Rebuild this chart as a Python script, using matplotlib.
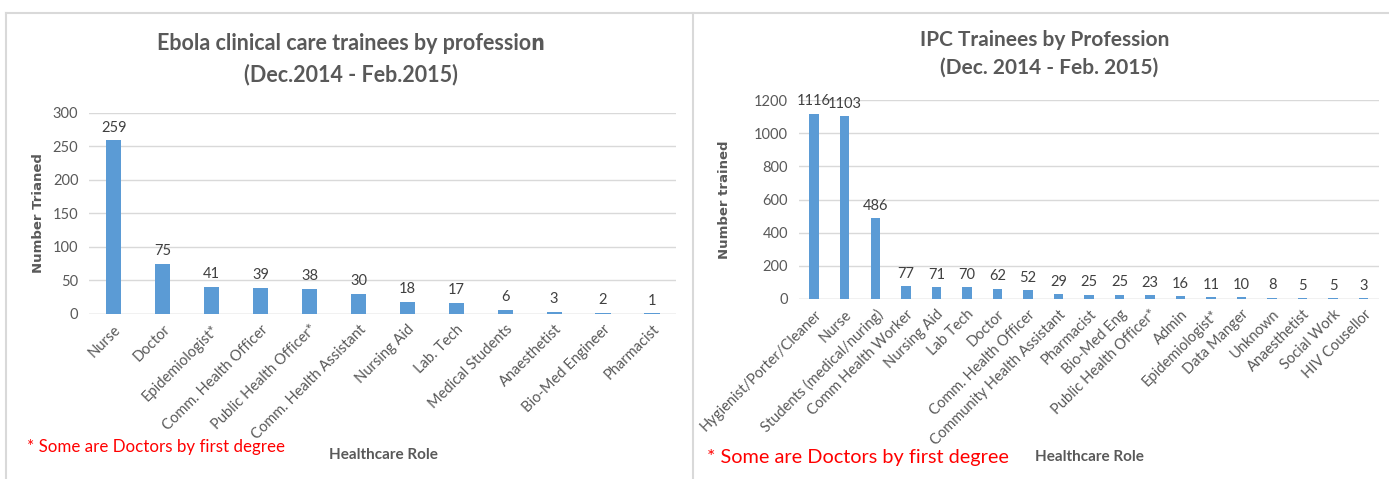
import matplotlib
matplotlib.use('Agg')
import matplotlib.pyplot as plt
from matplotlib.lines import Line2D

# clinical care trainees
clin_roles = ['Nurse', 'Doctor', 'Epidemiologist*', 'Comm. Health Officer',
              'Public Health Officer*', 'Comm. Health Assistant', 'Nursing Aid',
              'Lab. Tech', 'Medical Students', 'Anaesthetist', 'Bio-Med Engineer',
              'Pharmacist']
clin_counts = [259, 75, 41, 39, 38, 30, 18, 17, 6, 3, 2, 1]

# IPC trainees
ipc_roles = ['Hygienist/Porter/Cleaner', 'Nurse', 'Students (medical/nuring)',
             'Comm Health Worker', 'Nursing Aid', 'Lab Tech', 'Doctor',
             'Comm. Health Officer', 'Community Health Assistant', 'Pharmacist',
             'Bio-Med Eng', 'Public Health Officer*', 'Admin', 'Epidemiologist*',
             'Data Manger', 'Unknown', 'Anaesthetist', 'Social Work', 'HIV Cousellor']
ipc_counts = [1116, 1103, 486, 77, 71, 70, 62, 52, 29, 25, 25, 23, 16, 11, 10, 8, 5, 5, 3]

BAR = '#5B9BD5'
GRID = '#D9D9D9'
TXT = '#595959'
FONT = 'Lato'

plt.rcParams['font.family'] = [FONT, 'DejaVu Sans']


def draw_bars(ax, roles, counts, ymax, step, tick_size, label_size):
    x = range(len(roles))
    ax.bar(x, counts, width=0.31, color=BAR, zorder=3)
    for i, v in zip(x, counts):
        ax.annotate(str(v), (i, v), xytext=(0, 4), textcoords='offset points',
                    ha='center', va='bottom', fontsize=label_size, color='#404040')
    ax.set_xlim(-0.5, len(roles) - 0.5)
    ax.set_ylim(0, ymax)
    ax.set_yticks(range(0, ymax + 1, step))
    ax.yaxis.grid(True, color=GRID, linewidth=1, zorder=0)
    for s in ax.spines.values():
        s.set_visible(False)
    ax.axhline(0, color=GRID, linewidth=1, zorder=2)
    ax.tick_params(length=0, colors=TXT, labelsize=tick_size)
    ax.set_xticks(list(x))
    ax.set_xticklabels(roles, rotation=45, ha='right', rotation_mode='anchor')
    ax.tick_params(axis='x', pad=6)
    ax.tick_params(axis='y', pad=8)


fig = plt.figure(figsize=(13.89, 4.79), dpi=100)

ax1 = fig.add_axes([0.0644, 0.3445, 0.4226, 0.4196])
draw_bars(ax1, clin_roles, clin_counts, 300, 50, 10.5, 10.5)

ax2 = fig.add_axes([0.5752, 0.3758, 0.4176, 0.4154])
draw_bars(ax2, ipc_roles, ipc_counts, 1200, 200, 10.5, 10.5)

# panel frames
fig.add_artist(Line2D([6 / 1389, 1], [1 - 13 / 479] * 2, color='#D9D9D9', lw=1.5))
fig.add_artist(Line2D([6 / 1389] * 2, [0, 1 - 13 / 479], color='#D9D9D9', lw=1.5))
fig.add_artist(Line2D([693 / 1389] * 2, [0, 1 - 13 / 479], color='#D9D9D9', lw=1.5))

# titles
fig.text(351 / 1389, 1 - 44 / 479, 'Ebola clinical care trainees by professio\u0578',
         ha='center', va='center', fontsize=15.5, fontweight='bold', color=TXT)
fig.text(351 / 1389, 1 - 75 / 479, '(Dec.2014 - Feb.2015)',
         ha='center', va='center', fontsize=15.5, fontweight='bold', color=TXT)
fig.text(1045 / 1389, 1 - 40 / 479, 'IPC Trainees by Profession',
         ha='center', va='center', fontsize=15, fontweight='bold', color=TXT)
fig.text(1049 / 1389, 1 - 68 / 479, '(Dec. 2014 - Feb. 2015)',
         ha='center', va='center', fontsize=15, fontweight='bold', color=TXT)

# axis titles
fig.text(38 / 1389, 1 - 213 / 479, 'Number Trianed', rotation=90, ha='center',
         va='center', fontsize=9.5, fontweight='bold', color=TXT, family='DejaVu Sans')
fig.text(724 / 1389, 1 - 200 / 479, 'Number trained', rotation=90, ha='center',
         va='center', fontsize=9.5, fontweight='bold', color=TXT, family='DejaVu Sans')
fig.text(383 / 1389, 1 - 455 / 479, 'Healthcare Role', ha='center', va='center',
         fontsize=11, fontweight='bold', color=TXT)
fig.text(1089 / 1389, 1 - 457 / 479, 'Healthcare Role', ha='center', va='center',
         fontsize=11, fontweight='bold', color=TXT)

# footnotes
fig.text(27 / 1389, 1 - 447 / 479, '* Some are Doctors by first degree', ha='left',
         va='center', fontsize=12.2, color='#FF0000')
fig.text(707 / 1389, 1 - 457 / 479, '* Some are Doctors by first degree', ha='left',
         va='center', fontsize=14.3, color='#FF0000')

fig.savefig('out.png', dpi=100)
